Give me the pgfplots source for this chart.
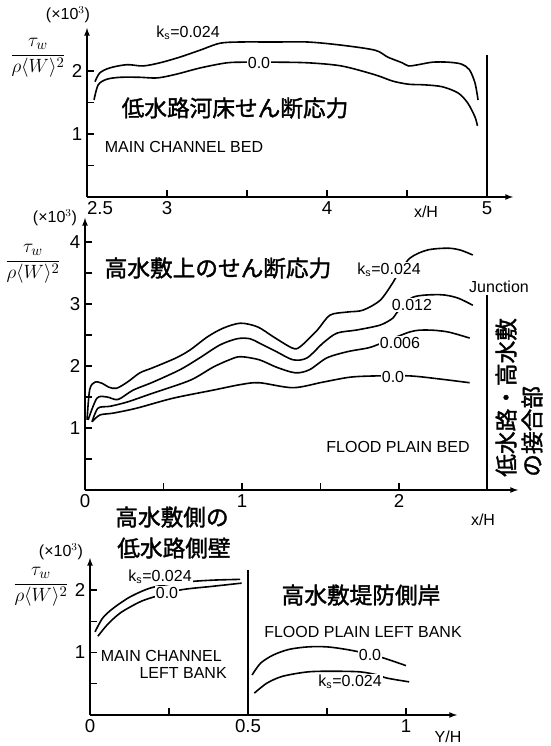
\documentclass[border=0pt]{standalone}
\usepackage{fontspec}
\setmainfont{Liberation Sans}
\newfontfamily\jp[FakeBold=1.6]{Noto Sans CJK JP}
\usepackage{pgfplots}
\pgfplotsset{compat=1.18}
\newcommand{\PP}[2]{({#1*0.75pt},{(746-#2)*0.75pt})}
\pgfplotsset{panel/.style={
  scale only axis, axis lines=left, anchor=south west,
  axis line style={line width=1pt, -latex},
  tick style={line width=0.8pt, black},
  major tick length=5pt, minor tick length=5pt,
  tick align=inside,
  tick label style={font=\fontsize{14}{14}\selectfont},
  /pgf/number format/assume math mode=true,
}, curve/.style={black, line width=1.2pt, smooth, mark=none}}
\begin{document}
\begin{tikzpicture}[
  jpt/.style={font=\jp\fontsize{17}{17}\selectfont, inner sep=0pt},
  lab/.style={fill=white, inner sep=0.8pt, font=\fontsize{12}{12}\selectfont},
  txt/.style={inner sep=0pt, font=\fontsize{12}{12}\selectfont},
  ylab/.style={inner sep=0pt, font=\fontsize{15}{15}\selectfont}]
\useasboundingbox (0,0) rectangle (412.5pt,559.5pt);

% ---------- Panel 1: main channel bed ----------
\begin{axis}[panel, at={(65.25pt,411.75pt)},
  width=319.5pt, height=126.75pt,
  xmin=2.5, xmax=5.1625, ymin=0, ymax=2.6825,
  xtick={2.5,3,4,5}, xticklabels={\makebox[0pt][l]{2.5},3,4,5}, minor xtick={3.5,4.5},
  ytick={1,2}, yticklabels={1,2}, minor ytick={0.5,1.5}]
\addplot[curve] coordinates {(2.55,1.83) (2.58,1.97) (2.644,2.05) (2.75,2.10) (2.85,2.08) (2.956,2.13) (3.08,2.22) (3.206,2.33) (3.33,2.44) (3.456,2.46) (3.675,2.46) (3.88,2.46) (4.09,2.41) (4.3,2.33) (4.38,2.22) (4.47,2.13) (4.51,2.08) (4.57,2.10) (4.66,2.14) (4.756,2.14) (4.84,2.11) (4.89,2.02) (4.925,1.81) (4.944,1.54)};
\addplot[curve] coordinates {(2.544,1.54) (2.57,1.78) (2.625,1.87) (2.71,1.90) (2.83,1.90) (2.94,1.89) (3.06,1.95) (3.21,2.05) (3.375,2.13) (3.5,2.14) (3.675,2.14) (3.88,2.13) (4.09,2.08) (4.3,1.94) (4.41,1.84) (4.51,1.79) (4.61,1.78) (4.72,1.75) (4.82,1.65) (4.88,1.49) (4.925,1.27) (4.94,1.13)};
\draw[line width=1pt] (axis cs:5,0) -- (axis cs:5,2.25);
\end{axis}

% ---------- Panel 2: flood plain bed ----------
\begin{axis}[panel, at={(63.75pt,192pt)},
  width=324.75pt, height=204pt,
  xmin=0, xmax=2.758, ymin=0, ymax=4.387,
  xtick={0,1,2}, xticklabels={0,1,2}, minor xtick={0.5,1.5},
  ytick={1,2,3,4}, yticklabels={1,2,3,4}, minor ytick={0.5,1.5,2.5,3.5}]
\addplot[curve] coordinates {(0.013,1.13) (0.03,1.62) (0.064,1.74) (0.11,1.72) (0.15,1.66) (0.20,1.64) (0.27,1.74) (0.35,1.89) (0.43,1.97) (0.58,2.13) (0.67,2.26) (0.78,2.47) (0.88,2.61) (0.99,2.69) (1.10,2.63) (1.2,2.47) (1.32,2.29) (1.37,2.31) (1.48,2.58) (1.56,2.82) (1.67,2.87) (1.77,2.90) (1.88,3.06) (1.96,3.34) (1.99,3.47) (2.07,3.74) (2.18,3.87) (2.31,3.90) (2.39,3.87) (2.47,3.79)};
\addplot[curve] coordinates {(0.02,1.13) (0.076,1.48) (0.14,1.50) (0.21,1.46) (0.306,1.61) (0.433,1.74) (0.605,1.94) (0.73,2.13) (0.86,2.34) (0.97,2.44) (1.05,2.44) (1.11,2.37) (1.22,2.23) (1.325,2.10) (1.414,2.13) (1.516,2.37) (1.605,2.53) (1.73,2.58) (1.88,2.66) (1.96,2.77) (1.99,2.87) (2.09,3.11) (2.26,3.15) (2.37,3.10) (2.47,2.98)};
\addplot[curve] coordinates {(0.045,1.10) (0.083,1.32) (0.16,1.35) (0.27,1.42) (0.43,1.56) (0.67,1.77) (0.815,1.98) (0.92,2.10) (0.99,2.15) (1.11,2.10) (1.22,1.98) (1.34,1.89) (1.43,1.94) (1.54,2.13) (1.67,2.23) (1.80,2.29) (1.86,2.34) (2.07,2.55) (2.18,2.58) (2.31,2.55) (2.45,2.45)};
\addplot[curve] coordinates {(0.045,1.10) (0.095,1.21) (0.18,1.24) (0.33,1.32) (0.56,1.48) (0.815,1.61) (0.99,1.70) (1.11,1.73) (1.325,1.65) (1.516,1.74) (1.69,1.82) (1.86,1.84) (2.07,1.84) (2.26,1.79) (2.45,1.73)};
\draw[line width=1pt] (axis cs:2.56,0) -- (axis cs:2.56,3.15);
\end{axis}

% ---------- Panel 3: side walls ----------
\begin{axis}[panel, at={(67.5pt,23.25pt)},
  width=275.25pt, height=117.75pt,
  xmin=0, xmax=1.1614, ymin=0, ymax=2.512,
  xtick={0,0.5,1}, xticklabels={0,0.5,1}, minor xtick={0.25,0.75},
  ytick={1,2}, yticklabels={1,2}, minor ytick={0.5,1.5}]
\addplot[curve] coordinates {(0.016,1.33) (0.04,1.55) (0.074,1.71) (0.127,1.89) (0.19,2.03) (0.26,2.10) (0.33,2.14) (0.40,2.16) (0.475,2.17)};
\addplot[curve] coordinates {(0.025,1.26) (0.054,1.44) (0.095,1.63) (0.15,1.79) (0.19,1.87) (0.285,2.0) (0.39,2.06) (0.48,2.11)};
\addplot[curve] coordinates {(0.513,0.64) (0.54,0.83) (0.58,0.96) (0.63,1.05) (0.69,1.09) (0.75,1.09) (0.81,1.05) (0.87,0.99) (0.93,0.91) (1.0,0.79)};
\addplot[curve] coordinates {(0.52,0.35) (0.56,0.51) (0.61,0.62) (0.69,0.69) (0.77,0.70) (0.855,0.69) (0.91,0.64) (0.94,0.59) (1.01,0.53)};
\draw[line width=1pt] (axis cs:0.5,0) -- (axis cs:0.5,2.32);
\end{axis}

% ---------- texts ----------
% panel 1
\node[ylab] at \PP{38}{58} {$\displaystyle\frac{\tau_{w}}{\rho\langle W\rangle^{2}}$};
\node[txt] at \PP{68}{15} {(×10$^{3}$)};
\node[lab] at \PP{188}{33} {k\textsubscript{s}=0.024};
\node[lab] at \PP{259}{63} {0.0};
\node[jpt] at \PP{235}{108} {低水路河床せん断応力};
\node[txt] at \PP{184}{147} {MAIN CHANNEL BED};
\node[txt] at \PP{426}{212} {x/H};
% panel 2
\node[ylab] at \PP{33}{264} {$\displaystyle\frac{\tau_{w}}{\rho\langle W\rangle^{2}}$};
\node[txt] at \PP{55}{218} {(×10$^{3}$)};
\node[jpt] at \PP{218}{268} {高水敷上のせん断応力};
\node[lab] at \PP{389}{270} {k\textsubscript{s}=0.024};
\node[lab] at \PP{412}{305} {0.012};
\node[lab] at \PP{400}{343} {0.006};
\node[lab] at \PP{393}{377} {0.0};
\node[txt] at \PP{499}{287} {Junction};
\node[jpt, rotate=90, anchor=west] at \PP{506}{477} {低水路・高水敷};
\node[jpt, rotate=90, anchor=west] at \PP{532}{477} {の接合部};
\node[txt] at \PP{398}{447} {FLOOD PLAIN BED};
\node[txt] at \PP{483}{520} {x/H};
% panel 3
\node[jpt] at \PP{172}{517} {高水敷側の};
\node[jpt] at \PP{174}{548} {低水路側壁};
\node[ylab] at \PP{41}{587} {$\displaystyle\frac{\tau_{w}}{\rho\langle W\rangle^{2}}$};
\node[txt] at \PP{61}{552} {(×10$^{3}$)};
\node[lab] at \PP{160}{577} {k\textsubscript{s}=0.024};
\node[lab] at \PP{167}{593} {0.0};
\node[txt, anchor=east] at \PP{222}{656} {MAIN CHANNEL};
\node[txt, anchor=east] at \PP{227}{673} {LEFT BANK};
\node[jpt] at \PP{361}{595} {高水敷堤防側岸};
\node[txt] at \PP{363}{632} {FLOOD PLAIN LEFT BANK};
\node[lab] at \PP{370}{655} {0.0};
\node[lab] at \PP{350}{682} {k\textsubscript{s}=0.024};
\node[txt] at \PP{448}{737} {Y/H};
\end{tikzpicture}
\end{document}
